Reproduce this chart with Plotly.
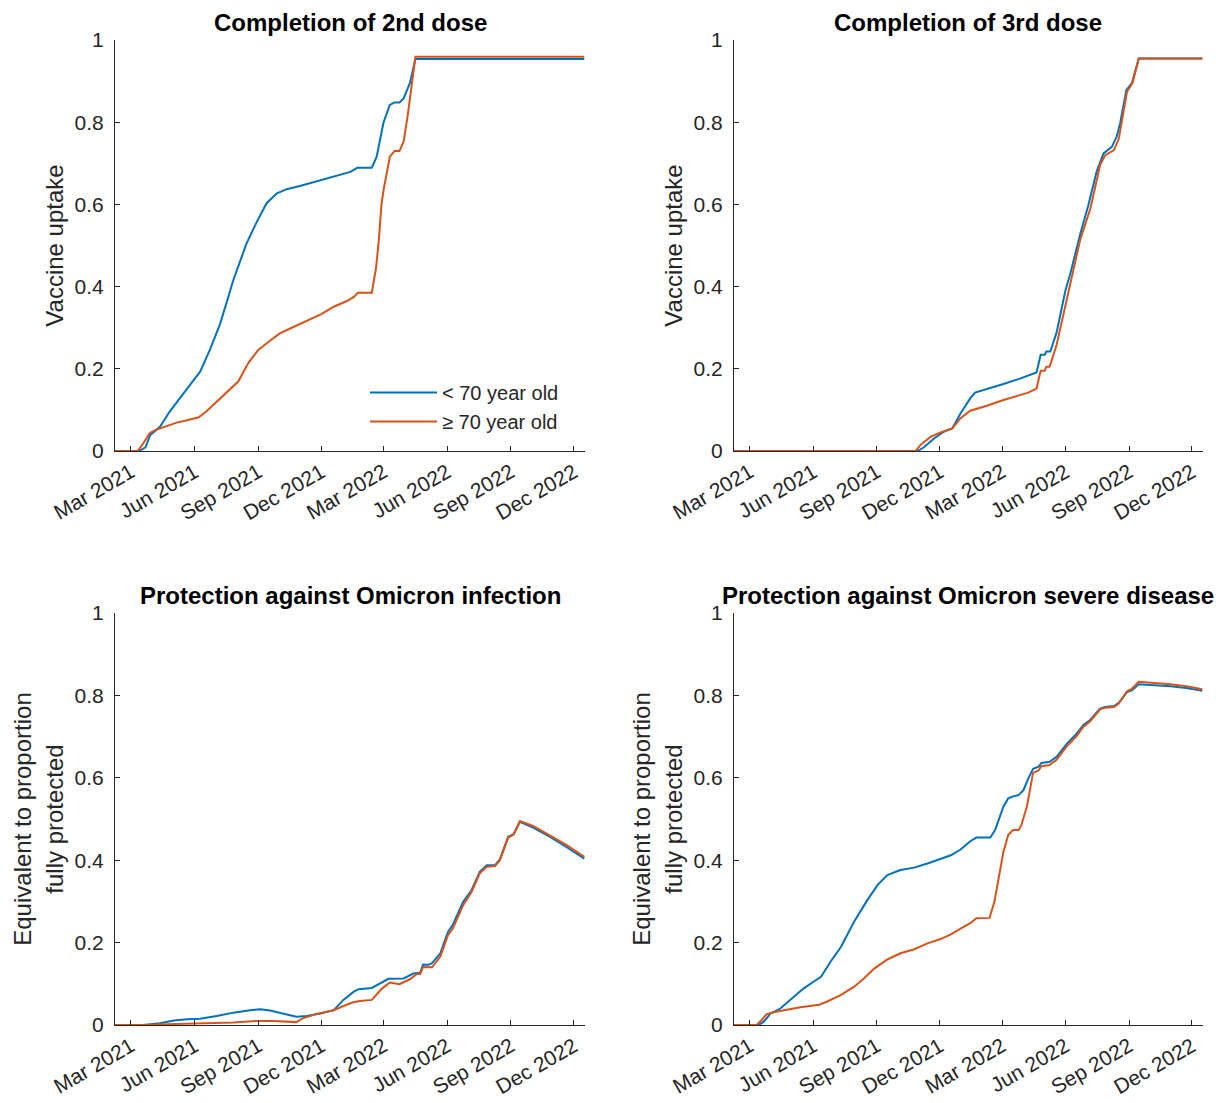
import plotly.graph_objects as go

# ---------------- data ----------------
tick_dates = ["2021-03-01", "2021-06-01", "2021-09-01", "2021-12-01",
              "2022-03-01", "2022-06-01", "2022-09-01", "2022-12-01"]
tick_labels = ["Mar 2021", "Jun 2021", "Sep 2021", "Dec 2021",
               "Mar 2022", "Jun 2022", "Sep 2022", "Dec 2022"]
y_ticks = [0, 0.2, 0.4, 0.6, 0.8, 1]
y_tick_labels = ["0", "0.2", "0.4", "0.6", "0.8", "1"]

series_names = ["< 70 year old", "\u2265 70 year old"]
panel_titles = ["Completion of 2nd dose", "Completion of 3rd dose",
                "Protection against Omicron infection",
                "Protection against Omicron severe disease"]
y_titles = ["Vaccine uptake", "Vaccine uptake",
            "Equivalent to proportion<br>fully protected",
            "Equivalent to proportion<br>fully protected"]

# Panel 1: 2nd dose
dose2_u70_dates = ["2021-02-06", "2021-03-13", "2021-03-22", "2021-03-29", "2021-04-12", "2021-04-26",
                   "2021-05-16", "2021-06-01", "2021-06-09", "2021-06-23", "2021-07-08", "2021-07-27",
                   "2021-08-15", "2021-08-30", "2021-09-13", "2021-09-28", "2021-10-12", "2021-10-31",
                   "2021-12-01", "2021-12-19", "2022-01-12", "2022-01-22", "2022-02-12", "2022-02-19",
                   "2022-03-01", "2022-03-10", "2022-03-17", "2022-03-24", "2022-03-30", "2022-04-08",
                   "2022-04-16", "2022-12-16"]
dose2_u70_vals = [0, 0, 0.009, 0.039, 0.059, 0.096,
                  0.14, 0.177, 0.193, 0.246, 0.31, 0.416,
                  0.505, 0.558, 0.603, 0.627, 0.637, 0.645,
                  0.659, 0.669, 0.679, 0.689, 0.689, 0.716,
                  0.80, 0.842, 0.848, 0.848, 0.858, 0.895,
                  0.954, 0.954]
dose2_o70_dates = ["2021-02-06", "2021-03-11", "2021-03-19", "2021-03-28", "2021-04-05", "2021-04-22",
                   "2021-05-06", "2021-05-21", "2021-06-07", "2021-06-19", "2021-07-03", "2021-07-17",
                   "2021-08-03", "2021-08-18", "2021-09-01", "2021-09-16", "2021-10-02", "2021-10-17",
                   "2021-11-05", "2021-12-01", "2021-12-19", "2022-01-07", "2022-01-17", "2022-01-23",
                   "2022-02-12", "2022-02-18", "2022-02-22", "2022-02-26", "2022-03-01", "2022-03-04",
                   "2022-03-10", "2022-03-17", "2022-03-24", "2022-03-30", "2022-04-05", "2022-04-16",
                   "2022-12-16"]
dose2_o70_vals = [0, 0, 0.019, 0.043, 0.051, 0.061,
                  0.069, 0.075, 0.082, 0.098, 0.12, 0.142,
                  0.169, 0.215, 0.246, 0.266, 0.286, 0.298,
                  0.312, 0.333, 0.351, 0.365, 0.375, 0.385,
                  0.385, 0.444, 0.51, 0.6, 0.635, 0.66,
                  0.716, 0.73, 0.73, 0.753, 0.818, 0.959,
                  0.959]

# Panel 2: 3rd dose
dose3_u70_dates = ["2021-02-06", "2021-10-30", "2021-11-08", "2021-11-23", "2021-12-07", "2021-12-19",
                   "2021-12-31", "2022-01-14", "2022-01-21", "2022-02-07", "2022-03-03", "2022-03-27",
                   "2022-04-10", "2022-04-20", "2022-04-26", "2022-05-02", "2022-05-04", "2022-05-10",
                   "2022-05-19", "2022-06-01", "2022-06-08", "2022-06-22", "2022-07-04", "2022-07-16",
                   "2022-07-26", "2022-08-07", "2022-08-14", "2022-08-19", "2022-08-28", "2022-09-05",
                   "2022-09-15", "2022-12-16"]
dose3_u70_vals = [0, 0, 0.009, 0.031, 0.047, 0.055,
                  0.092, 0.128, 0.142, 0.15, 0.163, 0.176,
                  0.185, 0.191, 0.234, 0.234, 0.242, 0.242,
                  0.288, 0.392, 0.432, 0.526, 0.598, 0.68,
                  0.724, 0.74, 0.765, 0.797, 0.878, 0.895,
                  0.955, 0.955]
dose3_o70_dates = ["2021-02-06", "2021-10-27", "2021-11-03", "2021-11-18", "2021-12-02", "2021-12-19",
                   "2021-12-31", "2022-01-14", "2022-02-07", "2022-03-03", "2022-04-08", "2022-04-20",
                   "2022-04-26", "2022-05-02", "2022-05-04", "2022-05-09", "2022-05-19", "2022-06-03",
                   "2022-06-22", "2022-07-07", "2022-07-21", "2022-07-28", "2022-08-10", "2022-08-17",
                   "2022-08-29", "2022-09-06", "2022-09-15", "2022-12-16"]
dose3_o70_vals = [0, 0, 0.015, 0.035, 0.045, 0.055,
                  0.08, 0.098, 0.11, 0.124, 0.142, 0.152,
                  0.195, 0.195, 0.205, 0.205, 0.258, 0.371,
                  0.513, 0.59, 0.696, 0.719, 0.732, 0.759,
                  0.874, 0.896, 0.955, 0.955]

# Panel 3: protection against infection
inf_u70_dates = ["2021-02-06", "2021-03-19", "2021-04-12", "2021-05-02", "2021-05-21", "2021-06-09",
                 "2021-07-03", "2021-07-27", "2021-08-20", "2021-09-04", "2021-09-18", "2021-10-07",
                 "2021-10-26", "2021-11-10", "2021-11-30", "2021-12-19", "2022-01-02", "2022-01-17",
                 "2022-01-24", "2022-02-12", "2022-02-24", "2022-03-08", "2022-03-30", "2022-04-13",
                 "2022-04-23", "2022-04-27", "2022-05-05", "2022-05-10", "2022-05-22", "2022-06-02",
                 "2022-06-09", "2022-06-24", "2022-07-06", "2022-07-18", "2022-07-28", "2022-08-09",
                 "2022-08-16", "2022-08-28", "2022-09-05", "2022-09-14", "2022-10-03", "2022-10-27",
                 "2022-11-20", "2022-12-16"]
inf_u70_vals = [0, 0, 0.004, 0.011, 0.014, 0.015,
                0.022, 0.030, 0.036, 0.038, 0.035, 0.027,
                0.02, 0.022, 0.028, 0.036, 0.061, 0.081,
                0.087, 0.09, 0.101, 0.112, 0.113, 0.125,
                0.127, 0.147, 0.146, 0.15, 0.174, 0.226,
                0.243, 0.299, 0.327, 0.372, 0.388, 0.388,
                0.402, 0.457, 0.463, 0.493, 0.479, 0.457,
                0.432, 0.404]
inf_o70_dates = ["2021-02-06", "2021-03-21", "2021-04-23", "2021-06-09", "2021-07-27", "2021-08-30",
                 "2021-09-23", "2021-10-26", "2021-11-04", "2021-11-24", "2021-12-19", "2022-01-02",
                 "2022-01-16", "2022-01-26", "2022-02-12", "2022-02-27", "2022-03-10", "2022-03-24",
                 "2022-04-08", "2022-04-18", "2022-04-23", "2022-04-27", "2022-05-03", "2022-05-10",
                 "2022-05-22", "2022-06-02", "2022-06-09", "2022-06-24", "2022-07-06", "2022-07-18",
                 "2022-07-28", "2022-08-09", "2022-08-16", "2022-08-28", "2022-09-05", "2022-09-14",
                 "2022-10-03", "2022-10-27", "2022-11-20", "2022-12-16"]
inf_o70_vals = [0, 0, 0.002, 0.004, 0.006, 0.01,
                0.01, 0.007, 0.016, 0.027, 0.036, 0.046,
                0.055, 0.058, 0.061, 0.089, 0.103, 0.099,
                0.111, 0.124, 0.124, 0.141, 0.141, 0.14,
                0.166, 0.218, 0.234, 0.291, 0.323, 0.368,
                0.384, 0.386, 0.4, 0.455, 0.463, 0.495,
                0.483, 0.461, 0.437, 0.408]

# Panel 4: protection against severe disease
sev_u70_dates = ["2021-02-06", "2021-03-14", "2021-03-21", "2021-03-31", "2021-04-14", "2021-04-29",
                 "2021-05-18", "2021-06-01", "2021-06-12", "2021-06-26", "2021-07-11", "2021-07-30",
                 "2021-08-18", "2021-09-02", "2021-09-16", "2021-10-05", "2021-10-25", "2021-11-13",
                 "2021-12-01", "2021-12-17", "2021-12-31", "2022-01-14", "2022-01-23", "2022-02-12",
                 "2022-02-19", "2022-03-03", "2022-03-10", "2022-03-17", "2022-03-25", "2022-04-01",
                 "2022-04-08", "2022-04-15", "2022-04-23", "2022-04-27", "2022-05-09", "2022-05-19",
                 "2022-06-03", "2022-06-17", "2022-06-27", "2022-07-07", "2022-07-21", "2022-07-28",
                 "2022-08-10", "2022-08-17", "2022-08-29", "2022-09-05", "2022-09-15", "2022-10-07",
                 "2022-10-31", "2022-11-23", "2022-12-16"]
sev_u70_vals = [0, 0, 0.008, 0.028, 0.04, 0.061,
                0.089, 0.105, 0.117, 0.154, 0.19, 0.251,
                0.303, 0.34, 0.364, 0.376, 0.382, 0.392,
                0.402, 0.412, 0.426, 0.446, 0.455, 0.455,
                0.473, 0.53, 0.55, 0.555, 0.558, 0.57,
                0.598, 0.622, 0.627, 0.636, 0.639, 0.651,
                0.683, 0.707, 0.728, 0.741, 0.768, 0.772,
                0.774, 0.782, 0.808, 0.812, 0.827, 0.825,
                0.822, 0.818, 0.811]
sev_o70_dates = ["2021-02-06", "2021-03-11", "2021-03-18", "2021-03-25", "2021-04-04", "2021-04-24",
                 "2021-05-13", "2021-06-09", "2021-06-21", "2021-07-11", "2021-07-30", "2021-08-13",
                 "2021-08-28", "2021-09-16", "2021-10-05", "2021-10-25", "2021-11-13", "2021-12-01",
                 "2021-12-17", "2021-12-31", "2022-01-14", "2022-01-23", "2022-02-11", "2022-02-18",
                 "2022-02-24", "2022-03-03", "2022-03-10", "2022-03-17", "2022-03-25", "2022-03-29",
                 "2022-04-06", "2022-04-15", "2022-04-23", "2022-04-27", "2022-05-09", "2022-05-19",
                 "2022-06-03", "2022-06-17", "2022-06-27", "2022-07-07", "2022-07-21", "2022-07-28",
                 "2022-08-10", "2022-08-17", "2022-08-29", "2022-09-05", "2022-09-15", "2022-10-07",
                 "2022-10-31", "2022-11-23", "2022-12-16"]
sev_o70_vals = [0, 0, 0.012, 0.026, 0.031, 0.038,
                0.043, 0.049, 0.057, 0.073, 0.093, 0.113,
                0.137, 0.159, 0.174, 0.184, 0.198, 0.208,
                0.22, 0.234, 0.247, 0.259, 0.26, 0.299,
                0.36, 0.42, 0.461, 0.473, 0.473, 0.485,
                0.53, 0.612, 0.618, 0.628, 0.631, 0.644,
                0.677, 0.701, 0.724, 0.738, 0.766, 0.77,
                0.772, 0.78, 0.81, 0.816, 0.833, 0.83,
                0.827, 0.822, 0.815]

panels = [
    ((dose2_u70_dates, dose2_u70_vals), (dose2_o70_dates, dose2_o70_vals)),
    ((dose3_u70_dates, dose3_u70_vals), (dose3_o70_dates, dose3_o70_vals)),
    ((inf_u70_dates, inf_u70_vals), (inf_o70_dates, inf_o70_vals)),
    ((sev_u70_dates, sev_u70_vals), (sev_o70_dates, sev_o70_vals)),
]

# ---------------- style ----------------
W, H = 1220, 1103
colors = ["#0072BD", "#D95319"]
axis_col = "#262626"
FONT = "Liberation Sans, Arial, Helvetica, sans-serif"

x_domains = [(115 / W, 585 / W), (734 / W, 1203 / W)]
y_domains = [(1 - 451 / H, 1 - 40 / H), (1 - 1025 / H, 1 - 613 / H)]
title_y = [1 - 22 / H, 1 - 595 / H]

fig = go.Figure()
layout = dict(
    width=W, height=H,
    margin=dict(l=0, r=0, t=0, b=0, autoexpand=False),
    paper_bgcolor="white", plot_bgcolor="white",
    font=dict(family=FONT, color=axis_col),
    showlegend=True,
    legend=dict(x=365 / W, y=1 - 373 / H, xanchor="left", yanchor="top",
                font=dict(size=20, color=axis_col, family=FONT),
                bgcolor="rgba(0,0,0,0)", itemwidth=67, tracegroupgap=0),
    annotations=[],
)

for i, series in enumerate(panels):
    r, c = divmod(i, 2)
    xa = "xaxis" if i == 0 else f"xaxis{i + 1}"
    ya = "yaxis" if i == 0 else f"yaxis{i + 1}"
    xr = "x" if i == 0 else f"x{i + 1}"
    yr = "y" if i == 0 else f"y{i + 1}"
    for k, (dts, vals) in enumerate(series):
        fig.add_trace(go.Scatter(
            x=dts, y=vals, mode="lines", name=series_names[k],
            line=dict(color=colors[k], width=2),
            showlegend=(i == 0), xaxis=xr, yaxis=yr,
        ))
    layout[xa] = dict(
        domain=x_domains[c], anchor=yr, type="date", automargin=False,
        range=["2021-02-06", "2022-12-17"],
        tickmode="array", tickvals=tick_dates, ticktext=tick_labels,
        tickangle=-30, ticks="inside", ticklen=5, tickwidth=1, tickcolor=axis_col,
        showline=True, linecolor=axis_col, linewidth=1,
        showgrid=False, zeroline=False,
        tickfont=dict(size=21, color=axis_col, family=FONT),
    )
    layout[ya] = dict(
        domain=y_domains[r], anchor=xr, range=[0, 1], automargin=False,
        tickmode="array", tickvals=y_ticks, ticktext=y_tick_labels,
        ticks="inside", ticklen=5, tickwidth=1, tickcolor=axis_col,
        showline=True, linecolor=axis_col, linewidth=1,
        showgrid=False, zeroline=False, ticklabelstandoff=6,
        tickfont=dict(size=21, color=axis_col, family=FONT),
        title=dict(text=y_titles[i], font=dict(size=24, color=axis_col, family=FONT),
                   standoff=4),
    )
    layout["annotations"].append(dict(
        text="<b>" + panel_titles[i] + "</b>", xref="paper", yref="paper",
        x=(x_domains[c][0] + x_domains[c][1]) / 2, y=title_y[r],
        xanchor="center", yanchor="middle", showarrow=False,
        font=dict(size=24, color="black", family=FONT),
    ))

fig.update_layout(**layout)
fig.write_html("out.html",
               config={"displayModeBar": False},
               post_script="document.body.style.margin='0px';document.body.style.overflow='hidden';")
